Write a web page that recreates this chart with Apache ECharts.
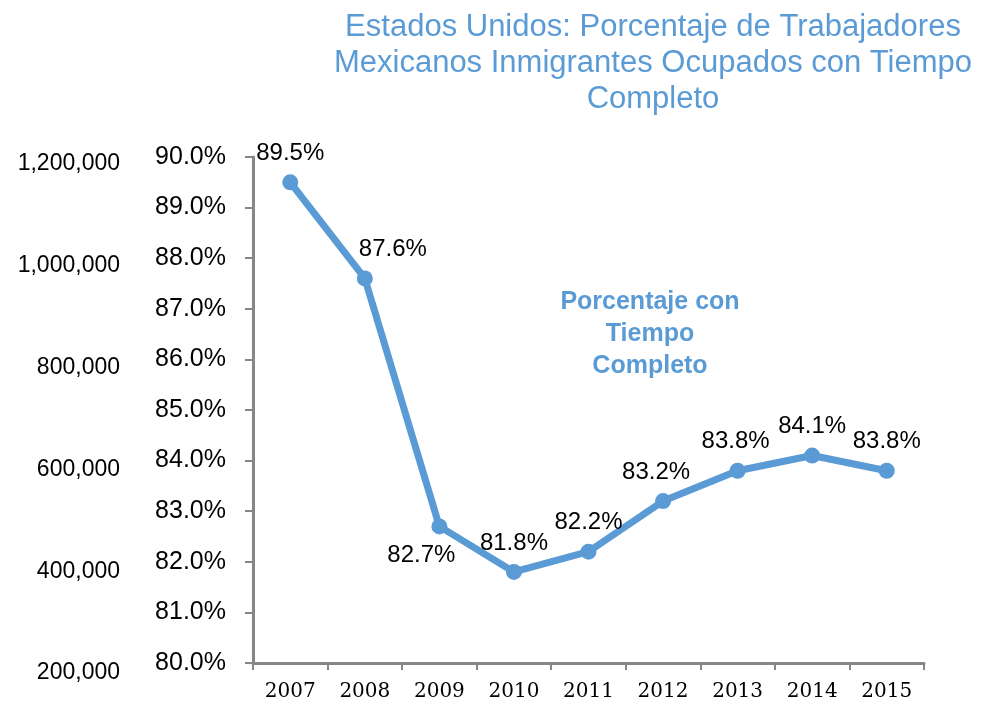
<!DOCTYPE html>
<html>
<head>
<meta charset="utf-8">
<script src="https://cdn.jsdelivr.net/npm/echarts@6/dist/echarts.min.js"></script>
<style>
  html, body { margin: 0; padding: 0; background: #fff; }
  #main { width: 988px; height: 705px; }
</style>
</head>
<body>
<div id="main"></div>
<script>
// años y porcentaje de ocupados con tiempo completo
var years = ['2007', '2008', '2009', '2010', '2011', '2012', '2013', '2014', '2015'];
var fullTime = [89.5, 87.6, 82.7, 81.8, 82.2, 83.2, 83.8, 84.1, 83.8];
// eje secundario (sin serie visible)
var outerMin = 200000;
var outerMax = 1200000;
var outerStep = 200000;

var blue = '#5B9BD5';
var axisGray = '#868686';

// ubicacion de cada etiqueta
var labelPos = [
    { position: 'top', offset: [0, 0] },
    { position: 'top', offset: [28, 0] },
    { position: 'bottom', offset: [-18, 0] },
    { position: 'top', offset: [0, 0] },
    { position: 'top', offset: [0, 0] },
    { position: 'top', offset: [-7, 0] },
    { position: 'top', offset: [-2, 0] },
    { position: 'top', offset: [0, 0] },
    { position: 'top', offset: [0, 0] }
];

var seriesData = fullTime.map(function (v, i) {
    return {
        value: v,
        label: { position: labelPos[i].position, offset: labelPos[i].offset }
    };
});

var myChart = echarts.init(document.getElementById('main'));

var option = {
    animation: false,
    title: {
        text: 'Estados Unidos: Porcentaje de Trabajadores\nMexicanos Inmigrantes Ocupados con Tiempo\nCompleto',
        left: 648,
        top: 4,
        textAlign: 'center',
        textStyle: {
            fontFamily: 'Liberation Sans',
            fontSize: 31,
            fontWeight: 'normal',
            color: blue,
            lineHeight: 36
        }
    },
    graphic: [{
        type: 'text',
        x: 650,
        y: 286,
        style: {
            text: 'Porcentaje con\nTiempo\nCompleto',
            align: 'center',
            fill: blue,
            font: 'bold 25px "Liberation Sans"',
            lineHeight: 32
        }
    }],
    grid: [
        { left: 253, right: 64, top: 157, bottom: 42 },
        { left: 130, right: 64, top: 164, bottom: 32 }
    ],
    xAxis: [{
        type: 'category',
        gridIndex: 0,
        data: years,
        boundaryGap: true,
        axisLine: { lineStyle: { color: axisGray, width: 3 } },
        axisTick: { show: true, length: 7, lineStyle: { color: axisGray, width: 2 } },
        axisLabel: {
            margin: 19,
            color: '#000',
            fontFamily: 'DejaVu Serif',
            fontSize: 20
        }
    }, {
        type: 'category',
        gridIndex: 1,
        data: years,
        show: false
    }],
    yAxis: [{
        type: 'value',
        gridIndex: 0,
        min: 80,
        max: 90,
        interval: 1,
        axisLine: { show: true, lineStyle: { color: axisGray, width: 3 } },
        axisTick: { show: true, length: 8, lineStyle: { color: axisGray, width: 2 } },
        splitLine: { show: false },
        axisLabel: {
            margin: 27,
            color: '#000',
            fontFamily: 'Liberation Sans',
            fontSize: 25,
            formatter: function (v) { return v.toFixed(1) + '%'; }
        }
    }, {
        type: 'value',
        gridIndex: 1,
        min: outerMin,
        max: outerMax,
        interval: outerStep,
        axisLine: { show: false },
        axisTick: { show: false },
        splitLine: { show: false },
        axisLabel: {
            margin: 10,
            color: '#000',
            fontFamily: 'Liberation Sans',
            fontSize: 23,
            formatter: function (v) { return v.toLocaleString('en-US'); }
        }
    }],
    series: [{
        name: 'Porcentaje con Tiempo Completo',
        type: 'line',
        xAxisIndex: 0,
        yAxisIndex: 0,
        data: seriesData,
        symbol: 'circle',
        symbolSize: 16,
        itemStyle: { color: blue },
        lineStyle: { color: blue, width: 7 },
        label: {
            show: true,
            distance: 9,
            color: '#000',
            fontFamily: 'Liberation Sans',
            fontSize: 24,
            formatter: function (p) { return p.value.toFixed(1) + '%'; }
        }
    }]
};

myChart.setOption(option);
</script>
</body>
</html>
